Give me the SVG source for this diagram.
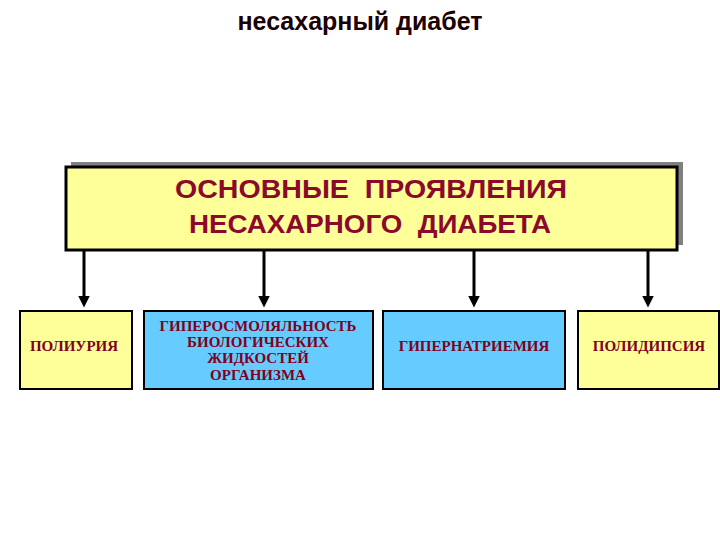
<svg xmlns="http://www.w3.org/2000/svg" width="720" height="540" viewBox="0 0 720 540">
<style>
.t{font-family:"Liberation Sans",Arial,sans-serif;font-weight:bold;fill:#8b0a2a;text-anchor:middle;white-space:pre}
.s{font-family:"Liberation Serif","Times New Roman",serif;font-weight:bold;fill:#800020;text-anchor:middle;font-size:15px}
.y{fill:#ffff99;stroke:#000;stroke-width:2}
.b{fill:#66ccff;stroke:#000;stroke-width:2}
.c{stroke:#000;stroke-width:3;marker-end:url(#a)}
</style>
<defs><marker id="a" markerWidth="4" markerHeight="4" refX="2.5" refY="2" orient="auto"><path d="M0,0L4,2L0,4z" fill="#000"/></marker></defs>
<rect width="720" height="540" fill="#fff"/>
<text x="360" y="30" font-size="25" font-family="Liberation Sans,Arial,sans-serif" font-weight="bold" fill="#1a0000" text-anchor="middle">несахарный диабет</text>
<g id="main">
<rect x="71" y="162" width="612" height="83" fill="#808080"/>
<rect x="66" y="167" width="611" height="83" fill="#ffff99" stroke="#000" stroke-width="3"/>
<text class="t" x="371" y="198" font-size="26" textLength="392" lengthAdjust="spacingAndGlyphs">ОСНОВНЫЕ  ПРОЯВЛЕНИЯ</text>
<text class="t" x="370" y="233" font-size="26" textLength="362" lengthAdjust="spacingAndGlyphs">НЕСАХАРНОГО  ДИАБЕТА</text>
</g>
<g id="connectors">
<line class="c" x1="84" y1="250" x2="84" y2="303"/>
<line class="c" x1="264" y1="250" x2="264" y2="303"/>
<line class="c" x1="474" y1="250" x2="474" y2="303"/>
<line class="c" x1="648" y1="250" x2="648" y2="303"/>
</g>
<g id="n1"><rect class="y" x="20" y="311" width="112" height="78"/><text class="s" x="74" y="351">ПОЛИУРИЯ</text></g>
<g id="n2"><rect class="b" x="144" y="311" width="229" height="78"/>
<text class="s" x="258" y="331">ГИПЕРОСМОЛЯЛЬНОСТЬ</text>
<text class="s" x="258" y="347">БИОЛОГИЧЕСКИХ</text>
<text class="s" x="258" y="363">ЖИДКОСТЕЙ</text>
<text class="s" x="258" y="380">ОРГАНИЗМА</text></g>
<g id="n3"><rect class="b" x="383" y="311" width="182" height="78"/><text class="s" x="474" y="351">ГИПЕРНАТРИЕМИЯ</text></g>
<g id="n4"><rect class="y" x="578" y="311" width="141" height="78"/><text class="s" x="649" y="351">ПОЛИДИПСИЯ</text></g>
</svg>
